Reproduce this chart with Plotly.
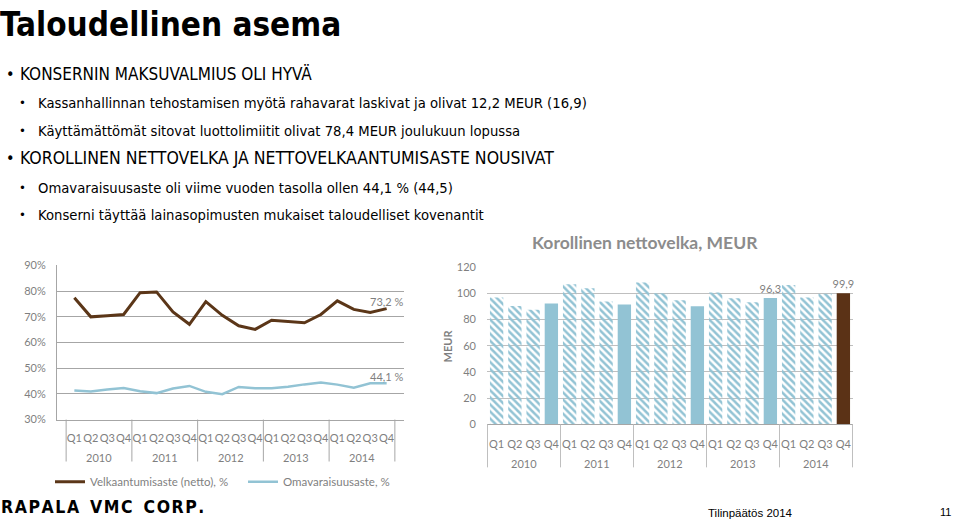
import plotly.graph_objects as go

# ---------------- data ----------------
years = ["2010", "2011", "2012", "2013", "2014"]
quarters = ["Q1", "Q2", "Q3", "Q4"]

velkaantumisaste = [77.4, 70.0, 70.4, 70.9, 79.4, 79.7, 71.9, 67.1, 75.9, 70.6,
                    66.5, 65.1, 68.7, 68.1, 67.7, 70.9, 76.2, 72.9, 71.7, 73.2]
omavaraisuusaste = [41.3, 40.9, 41.7, 42.3, 41.0, 40.3, 42.1, 43.1, 40.8, 39.9,
                    42.7, 42.2, 42.2, 42.8, 43.7, 44.4, 43.6, 42.4, 44.1, 44.1]
nettovelka = [96.7, 90.3, 87.4, 92.1, 106.9, 103.8, 93.6, 91.3, 108.2, 100.0,
              94.6, 90.0, 100.5, 96.2, 93.1, 96.3, 106.2, 96.7, 99.6, 99.9]

left_yticks = [30, 40, 50, 60, 70, 80, 90]
left_yticktext = ["30%", "40%", "50%", "60%", "70%", "80%", "90%"]
right_yticks = [0, 20, 40, 60, 80, 100, 120]

line_labels_velka = [""] * 19 + ["73,2 %"]
line_labels_oma = [""] * 19 + ["44,1 %"]
bar_labels = [""] * 15 + ["96,3"] + [""] * 3 + ["99,9"]

# categories (one per quarter) and their tick texts
categories = [f"{y} {q}" for y in years for q in quarters]
cat_ticktext = [q for y in years for q in quarters]

# ---------------- layout helpers ----------------
W, H = 960, 527
def px(x): return x / W
def py(y): return 1 - y / H

GRAY_TXT = "#7f7f7f"
GRID_L = "#a6a6a6"
GRID_R = "#bfbfbf"
CHART_FONT = "Lato, Open Sans, sans-serif"
SLIDE_FONT = "Liberation Sans Narrow, DejaVu Sans Condensed, sans-serif"

BROWN = "#5b3618"
BLUE = "#92c3d4"

fig = go.Figure()

fig.add_trace(go.Scatter(
    x=categories, y=velkaantumisaste, mode="lines+text", name="Velkaantumisaste (netto), %",
    line=dict(color=BROWN, width=3), text=line_labels_velka, textposition="top center",
    textfont=dict(size=11, color=GRAY_TXT), xaxis="x", yaxis="y", cliponaxis=False))
fig.add_trace(go.Scatter(
    x=categories, y=omavaraisuusaste, mode="lines+text", name="Omavaraisuusaste, %",
    line=dict(color=BLUE, width=2.5), text=line_labels_oma, textposition="top center",
    textfont=dict(size=11, color=GRAY_TXT), xaxis="x", yaxis="y", cliponaxis=False))

bar_colors, shapes_pat = [], []
for i, v in enumerate(nettovelka):
    q = i % 4
    if i == len(nettovelka) - 1:
        bar_colors.append("#5b3216"); shapes_pat.append("")
    elif q == 3:
        bar_colors.append(BLUE); shapes_pat.append("")
    else:
        bar_colors.append(BLUE); shapes_pat.append("\\")

fig.add_trace(go.Bar(
    x=categories, y=nettovelka, showlegend=False, xaxis="x2", yaxis="y2",
    marker=dict(color=bar_colors, line=dict(width=0),
                pattern=dict(shape=shapes_pat, fgcolor=BLUE, bgcolor="white",
                             fillmode="replace", size=5, solidity=0.5)),
    text=bar_labels, texttemplate="%{text}", textposition="outside",
    cliponaxis=False, constraintext="none",
    textfont=dict(size=11, color=GRAY_TXT)))

axis_common = dict(tickfont=dict(size=11, color=GRAY_TXT, family=CHART_FONT))

fig.update_layout(
    width=W, height=H, margin=dict(l=0, r=0, t=0, b=0),
    paper_bgcolor="white", plot_bgcolor="white",
    font=dict(family=CHART_FONT, color=GRAY_TXT),
    bargap=0.27, separators=", ",
    xaxis=dict(domain=[px(57), px(404)], anchor="y", type="category",
               tickvals=categories, ticktext=cat_ticktext,
               showline=True, linecolor=GRID_L, linewidth=1, ticks="",
               tickangle=0, ticklabelstandoff=8, showgrid=False, **axis_common),
    yaxis=dict(domain=[py(423), py(265)], anchor="x", range=[30, 90],
               tickvals=left_yticks, ticktext=left_yticktext, showgrid=True,
               gridcolor=GRID_L, gridwidth=1, showline=True,
               linecolor=GRID_L, zeroline=False, ticks="",
               ticklabelstandoff=8, **axis_common),
    xaxis2=dict(domain=[px(487), px(853)], anchor="y2", type="category",
                tickvals=categories, ticktext=cat_ticktext,
                showline=True, linecolor=GRID_L, linewidth=1, ticks="",
                tickangle=0, ticklabelstandoff=9, showgrid=False, **axis_common),
    yaxis2=dict(domain=[py(428), py(266.5)], anchor="x2", range=[0, 120],
                tickvals=right_yticks, showgrid=True, gridcolor=GRID_R,
                gridwidth=1, showline=False, zeroline=False, ticks="",
                ticklabelstandoff=10, **axis_common),
    legend=dict(orientation="h", x=px(50), y=py(472), xanchor="left", yanchor="top",
                font=dict(size=11.5, color=GRAY_TXT), bgcolor="rgba(0,0,0,0)",
                entrywidth=148, entrywidthmode="pixels"),
)

# year group labels and dividers under each category axis
shapes = []
ann = []
for k, yr in enumerate(years):
    ann.append(dict(x=4 * k + 1.5, xref="x", y=py(462), yref="paper", text=yr,
                    showarrow=False, xanchor="center", yanchor="middle",
                    font=dict(size=11, color=GRAY_TXT, family=CHART_FONT)))
    ann.append(dict(x=4 * k + 1.5, xref="x2", y=py(468), yref="paper", text=yr,
                    showarrow=False, xanchor="center", yanchor="middle",
                    font=dict(size=11, color=GRAY_TXT, family=CHART_FONT)))
for k in range(len(years) + 1):
    shapes.append(dict(type="line", xref="x", yref="paper", x0=4 * k - 0.5, x1=4 * k - 0.5,
                       y0=py(423), y1=py(466), line=dict(color=GRID_L, width=1)))
    shapes.append(dict(type="line", xref="x2", yref="paper", x0=4 * k - 0.5, x1=4 * k - 0.5,
                       y0=py(428), y1=py(472), line=dict(color=GRID_R, width=1)))

def add_text(x, y, text, size, color="#000000", family=SLIDE_FONT, anchor="left",
             angle=0, yanchor="middle"):
    ann.append(dict(x=px(x), y=py(y), xref="paper", yref="paper", text=text,
                    showarrow=False, xanchor=anchor, yanchor=yanchor, textangle=angle,
                    font=dict(size=size, color=color, family=family)))

add_text(-2, -4, "<b>Taloudellinen asema</b>", 33, yanchor="top")
add_text(4, 69, "•", 16)
add_text(18, 69, "KONSERNIN MAKSUVALMIUS OLI HYVÄ", 17)
add_text(17, 98, "•", 13)
add_text(36, 98, "Kassanhallinnan tehostamisen myötä rahavarat laskivat ja olivat 12,2 MEUR (16,9)", 14.7)
add_text(17, 127, "•", 13)
add_text(36, 127, "Käyttämättömät sitovat luottolimiitit olivat 78,4 MEUR joulukuun lopussa", 14.7)
add_text(4, 155, "•", 16)
add_text(18, 155, "KOROLLINEN NETTOVELKA JA NETTOVELKAANTUMISASTE NOUSIVAT", 17.5)
add_text(17, 185, "•", 13)
add_text(36, 185, "Omavaraisuusaste oli viime vuoden tasolla ollen 44,1 % (44,5)", 14.7)
add_text(17, 213, "•", 13)
add_text(36, 213, "Konserni täyttää lainasopimusten mukaiset taloudelliset kovenantit", 14.7)

add_text(645, 241, "<b>Korollinen nettovelka, MEUR</b>", 17.5, color="#8c8c8c",
         family=CHART_FONT, anchor="center")
add_text(447, 348, "<b>MEUR</b>", 11, color=GRAY_TXT, family=CHART_FONT,
         anchor="center", angle=-90)

add_text(-1, 513, "<b>R\u200aA\u200aP\u200aA\u200aL\u200aA  V\u200aM\u200aC  C\u200aO\u200aR\u200aP\u200a.</b>", 17.5)
add_text(750, 527, "Tilinpäätös 2014", 11.5, family="Liberation Sans, Arial, sans-serif",
         anchor="center", yanchor="bottom")
add_text(945, 518, "11", 11, family="Liberation Sans, Arial, sans-serif", anchor="center")

fig.update_layout(annotations=ann, shapes=shapes)

fig.write_html("out.html", config={"displayModeBar": False},
               post_script="document.body.style.margin='0';document.body.style.overflow='hidden';")
